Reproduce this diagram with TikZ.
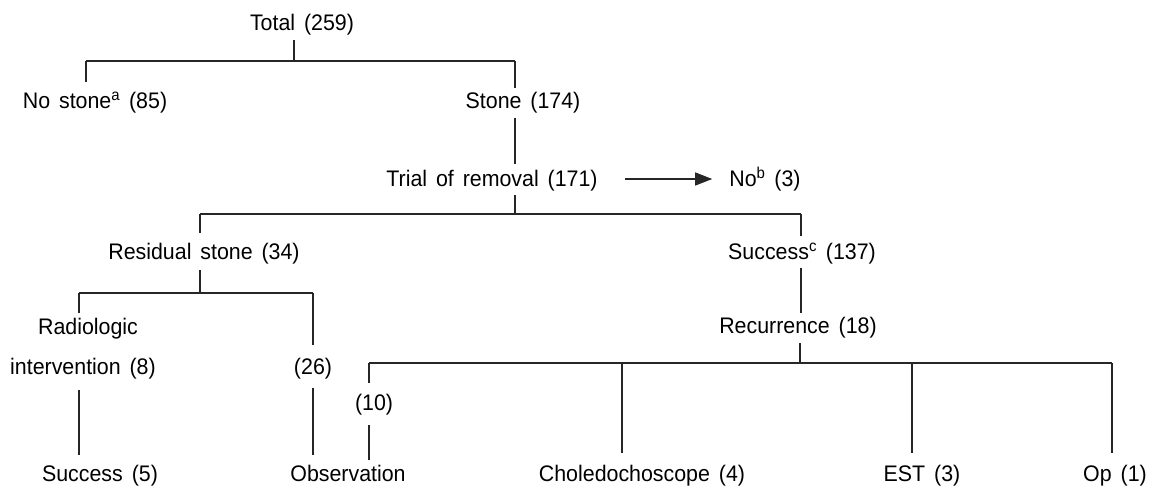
\documentclass[tikz,border=0pt]{standalone}
\usepackage{fontspec}
\setmainfont{Liberation Sans}[WordSpace=1.5,FakeStretch=0.95]
\usetikzlibrary{arrows.meta}
\begin{document}
\begin{tikzpicture}[x=1pt,y=-1pt,
  lbl/.style={inner sep=0pt,anchor=base,text height=16pt,text depth=5pt,font=\fontsize{22.5pt}{27pt}\selectfont},
  ln/.style={line width=1.1pt,black!85}]
\useasboundingbox (0,0) rectangle (1155,487);
% nodes
\node[lbl] (total) at (302,31) {Total (259)};
\node[lbl] (nostone) at (95,108) {No stone\textsuperscript{a} (85)};
\node[lbl] (stone) at (523,108) {Stone (174)};
\node[lbl] (trial) at (492,186) {Trial of removal (171)};
\node[lbl] (nob) at (765,186) {No\textsuperscript{b} (3)};
\node[lbl] (resid) at (204,259) {Residual stone (34)};
\node[lbl] (succc) at (802,259) {Success\textsuperscript{c} (137)};
\node[lbl] (radio1) at (88,334) {Radiologic};
\node[lbl] (radio2) at (83,374) {intervention (8)};
\node[lbl] (n26) at (313,374) {(26)};
\node[lbl] (recur) at (798,333) {Recurrence (18)};
\node[lbl] (n10) at (374,410) {(10)};
\node[lbl] (s5) at (100,481) {Success (5)};
\node[lbl] (obs) at (348,481) {Observation};
\node[lbl] (chol) at (642,481) {Choledochoscope (4)};
\node[lbl] (est) at (922,481) {EST (3)};
\node[lbl] (op) at (1115,481) {Op (1)};
% junction coordinates
\coordinate (j1) at (294,61);
\coordinate (b1l) at (86,61);
\coordinate (b1r) at (515,61);
\coordinate (j2) at (515,214);
\coordinate (b2l) at (200,214);
\coordinate (b2r) at (801,214);
\coordinate (j3) at (200,293);
\coordinate (b3l) at (79,293);
\coordinate (b3r) at (313,293);
\coordinate (j4) at (800,363);
\coordinate (b4l) at (369,363);
\coordinate (b4c) at (622,363);
\coordinate (b4d) at (912,363);
\coordinate (b4r) at (1112,363);
% connectors
\draw[ln] ([yshift=-4pt]total.south -| j1) -- (j1);
\draw[ln] (b1l) -- (b1r);
\draw[ln] (b1l) -- ([yshift=10pt]nostone.north -| b1l);
\draw[ln] (b1r) -- ([yshift=4pt]stone.north -| b1r);
\draw[ln] ([yshift=-5pt]stone.south -| b1r) -- ([yshift=6pt]trial.north -| b1r);
\draw[ln] ([yshift=-4pt]trial.south -| j2) -- (j2);
\draw[ln] (b2l) -- (b2r);
\draw[ln] (b2l) -- ([yshift=10pt]resid.north -| b2l);
\draw[ln] (b2r) -- ([yshift=7pt]succc.north -| b2r);
\draw[ln] ([yshift=-6pt]resid.south -| j3) -- (j3);
\draw[ln] (b3l) -- (b3r);
\draw[ln] (b3l) -- ([yshift=5pt]radio1.north -| b3l);
\draw[ln] (b3r) -- ([yshift=13pt]n26.north -| b3r);
\draw[ln] ([yshift=-11pt]radio2.south -| b3l) -- ([yshift=10pt]s5.north -| b3l);
\draw[ln] ([yshift=-9pt]n26.south -| b3r) -- ([yshift=10pt]obs.north -| b3r);
\draw[ln] ([yshift=-4pt]succc.south -| b2r) -- ([yshift=4pt]recur.north -| b2r);
\draw[ln] ([yshift=-5pt]recur.south -| j4) -- (j4);
\draw[ln] (b4l) -- (b4r);
\draw[ln] (b4l) -- ([yshift=11pt]n10.north -| b4l);
\draw[ln] ([yshift=-10pt]n10.south -| b4l) -- ([yshift=5pt]obs.north -| b4l);
\draw[ln] (b4c) -- ([yshift=12pt]chol.north -| b4c);
\draw[ln] (b4d) -- ([yshift=12pt]est.north -| b4d);
\draw[ln] (b4r) -- ([yshift=12pt]op.north -| b4r);
% arrow
\draw[ln,-{Triangle[length=17pt,width=13pt]}] ([xshift=27pt,yshift=1.5pt]trial.east) -- ([xshift=-17pt,yshift=1.5pt]nob.west);
\end{tikzpicture}
\end{document}
